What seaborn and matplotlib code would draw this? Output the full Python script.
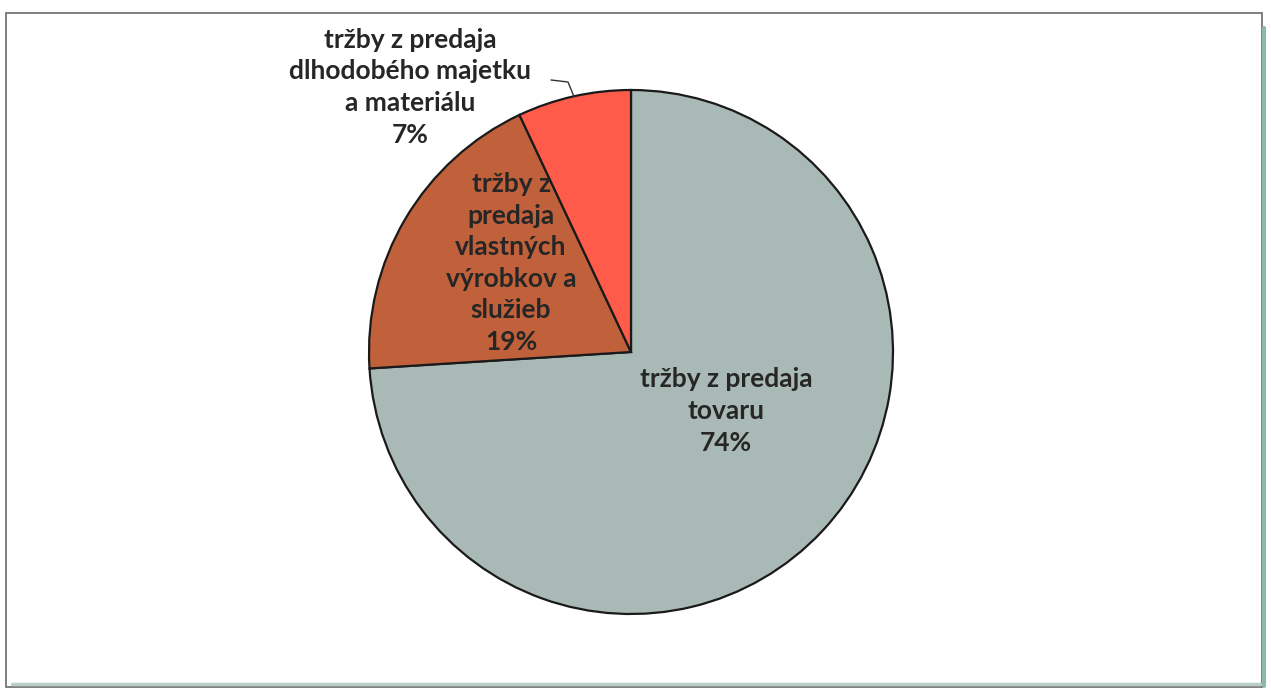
import numpy as np
import matplotlib.pyplot as plt
import matplotlib.patches as mpatches
import seaborn as sns

sns.set_theme(style="white")
plt.rcParams['font.family'] = ['Lato', 'DejaVu Sans']

# data
categories = ['tržby z predaja\ntovaru',
              'tržby z\npredaja\nvlastných\nvýrobkov a\nslužieb',
              'tržby z predaja\ndlhodobého majetku\na materiálu']
shares = [74, 19, 7]
colors = ['#A9B9B5', '#C0613B', '#FF5B4B']

W, H = 1271, 694
fig = plt.figure(figsize=(W / 100, H / 100), dpi=100)
fig.patch.set_facecolor('white')
ax = fig.add_axes([0, 0, 1, 1])

cx, cy, R = 631, H - 352, 262
wedges, _ = ax.pie(shares, colors=colors, startangle=90, counterclock=False,
                   center=(cx, cy), radius=R, frame=True,
                   wedgeprops=dict(edgecolor='#1a1a1a', linewidth=1.6))
ax.set_xlim(0, W)
ax.set_ylim(0, H)
ax.set_aspect('auto')
ax.set_axis_off()

txt = dict(fontsize=19, fontweight='bold', color='#262626',
           ha='center', va='center', linespacing=1.38)

# label placement relative to pie centre, in radius units
label_pos = [(0.363, -0.225), (-0.458, 0.34), (-0.844, 1.011)]
for cat, pct, (dx, dy) in zip(categories, shares, label_pos):
    ax.text(cx + dx * R, cy + dy * R, f'{cat}\n{pct}%', **txt)

# leader line for the small slice
w = wedges[2]
mid = np.deg2rad((w.theta1 + w.theta2) / 2)
px, py = cx + R * np.cos(mid), cy + R * np.sin(mid)
ax.plot([551, 568, px], [H - 80, H - 82, py], color='#333333', lw=1)

# chart frame with shadow
fig.add_artist(mpatches.Rectangle((6, H - 687), 1256, 674, transform=None,
                                  fill=False, edgecolor='#6a6a6a', lw=1.2))
fig.add_artist(plt.Line2D([1264, 1264], [H - 686, H - 28], transform=None,
                          color='#8fb8ad', lw=3))
fig.add_artist(plt.Line2D([12, 1260], [H - 684, H - 684], transform=None,
                          color='#b9cfc8', lw=2.5))

fig.savefig('out.png', dpi=100, facecolor='white')
